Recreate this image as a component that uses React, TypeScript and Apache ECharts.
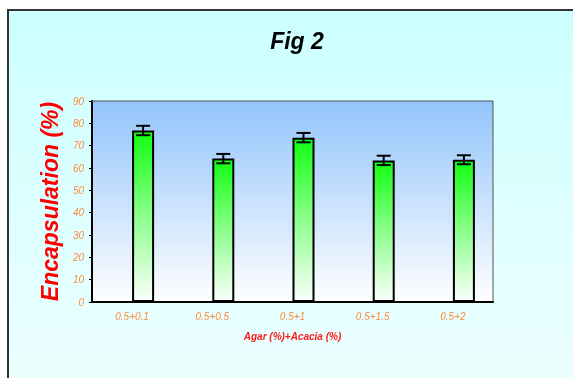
import React, { useEffect, useRef } from "react";
import * as echarts from "echarts";

const categories = ["0.5+0.1", "0.5+0.5", "0.5+1", "0.5+1.5", "0.5+2"];
const encapsulation = [76.8, 64.2, 73.6, 63.4, 63.7];
const errors = [2.1, 2.1, 2.1, 2.1, 2.0];
const yTicks = { min: 0, max: 90, interval: 10 };

export default function App() {
  const ref = useRef<HTMLDivElement>(null);
  useEffect(() => {
    if (!ref.current) return;
    const chart = echarts.init(ref.current, null, { renderer: "svg" });
    const font = "Liberation Sans, Arial, sans-serif";
    const orange = "#ff8a3d";
    const errData = encapsulation.map((v, i) => [i, v - errors[i], v + errors[i]]);
    chart.setOption({
      animation: false,
      graphic: [
        {
          type: "rect",
          z: -10,
          shape: { x: 8, y: 10, width: 700, height: 500 },
          style: {
            fill: new echarts.graphic.LinearGradient(0, 0, 0, 1, [
              { offset: 0, color: "#ccffff" },
              { offset: 1, color: "#f8ffff" },
            ]),
            stroke: "#333333",
            lineWidth: 2,
          },
        },
      ],
      title: {
        text: "Fig 2",
        left: 292,
        top: 24,
        textAlign: "center",
        textStyle: {
          fontFamily: font,
          fontSize: 23,
          fontWeight: "bold",
          fontStyle: "italic",
          color: "#000",
        },
      },
      grid: {
        left: 92,
        top: 101,
        width: 401,
        height: 201,
        show: true,
        borderColor: "#555",
        borderWidth: 1,
        backgroundColor: new echarts.graphic.LinearGradient(0, 0, 0, 1, [
          { offset: 0, color: "#92c4fb" },
          { offset: 1, color: "#ffffff" },
        ]),
      },
      xAxis: {
        type: "category",
        data: categories,
        name: "Agar (%)+Acacia (%)",
        nameLocation: "middle",
        nameGap: 29,
        nameTextStyle: {
          fontFamily: font,
          fontSize: 10,
          fontWeight: "bold",
          fontStyle: "italic",
          color: "#ff1a1a",
        },
        axisLine: { lineStyle: { color: "#000", width: 2 } },
        axisTick: { inside: true, length: 4, lineStyle: { color: "#666" } },
        axisLabel: {
          fontFamily: font,
          fontSize: 10,
          fontStyle: "italic",
          color: orange,
          margin: 9,
        },
      },
      yAxis: {
        type: "value",
        min: yTicks.min,
        max: yTicks.max,
        interval: yTicks.interval,
        name: "Encapsulation (%)",
        nameLocation: "middle",
        nameGap: 30,
        nameTextStyle: {
          fontFamily: font,
          fontSize: 23,
          fontWeight: "bold",
          fontStyle: "italic",
          color: "#ff0000",
        },
        splitLine: { show: false },
        axisLine: { show: true, lineStyle: { color: "#000", width: 2 } },
        axisTick: { show: true, length: 3, lineStyle: { color: "#000" } },
        axisLabel: {
          fontFamily: font,
          fontSize: 10,
          fontStyle: "italic",
          color: orange,
          margin: 8,
        },
      },
      series: [
        {
          type: "bar",
          data: categories.map(() => null),
          barWidth: 22,
          barGap: "0%",
        },
        {
          type: "bar",
          data: encapsulation,
          barWidth: 22,
          barGap: "0%",
          itemStyle: {
            color: new echarts.graphic.LinearGradient(0, 0, 0, 1, [
              { offset: 0, color: "#11ff11" },
              { offset: 0.5, color: "#8cff8c" },
              { offset: 1, color: "#fbfffb" },
            ]),
            borderColor: "#000",
            borderWidth: 2,
          },
        },
        {
          type: "custom",
          data: errData,
          z: 10,
          renderItem: (params: any, api: any) => {
            const idx = api.value(0);
            const lo = api.coord([idx, api.value(1)]);
            const hi = api.coord([idx, api.value(2)]);
            const x = lo[0] + 11;
            const half = 7;
            const style = { stroke: "#000", lineWidth: 2 };
            return {
              type: "group",
              children: [
                { type: "line", shape: { x1: x, y1: lo[1], x2: x, y2: hi[1] }, style },
                { type: "line", shape: { x1: x - half, y1: lo[1], x2: x + half, y2: lo[1] }, style },
                { type: "line", shape: { x1: x - half, y1: hi[1], x2: x + half, y2: hi[1] }, style },
              ],
            };
          },
        },
      ],
    });
    return () => chart.dispose();
  }, []);
  return (
    <div
      ref={ref}
      style={{ position: "fixed", left: 0, top: 0, width: 573, height: 378 }}
    />
  );
}
